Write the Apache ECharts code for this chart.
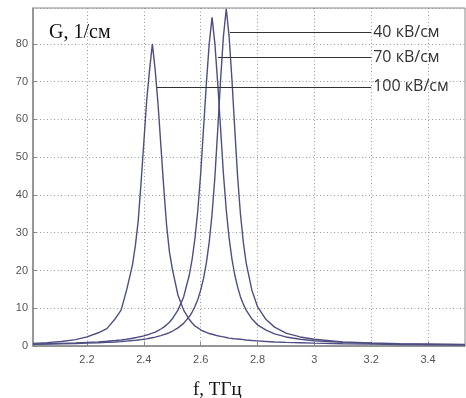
<!DOCTYPE html>
<html>
<head>
<meta charset="utf-8">
<script src="https://cdn.jsdelivr.net/npm/echarts@6/dist/echarts.min.js"></script>
<style>
  html, body { margin: 0; padding: 0; background: #fff; }
  #chart { width: 466px; height: 398px; }
</style>
</head>
<body>
<div id="chart"></div>
<script>
// частота, ТГц
const freq = [2.01, 2.06, 2.11, 2.16, 2.20, 2.24, 2.27, 2.30, 2.32, 2.34,
    2.36, 2.37, 2.38, 2.39, 2.40, 2.41, 2.42, 2.43, 2.44, 2.45,
    2.46, 2.47, 2.48, 2.49, 2.50, 2.52, 2.54, 2.56, 2.57, 2.58,
    2.59, 2.60, 2.61, 2.62, 2.63, 2.64, 2.65, 2.66, 2.67, 2.68,
    2.69, 2.70, 2.71, 2.72, 2.73, 2.74, 2.75, 2.76, 2.78, 2.80,
    2.83, 2.86, 2.90, 2.95, 3.00, 3.10, 3.20, 3.30, 3.40, 3.53];

// G, 1/см
const g100 = [0.7, 0.9, 1.2, 1.7, 2.4, 3.5, 4.6, 7.3, 9.5, 15,
    21.5, 26.5, 33, 43, 54, 65, 73, 80, 73, 64,
    53, 42, 32, 25, 20.5, 13.5, 9.5, 7, 6.1, 5.3,
    4.8, 4.3, 3.9, 3.6, 3.3, 3.1, 2.9, 2.7, 2.55, 2.4,
    2.25, 2.1, 2.0, 1.9, 1.85, 1.8, 1.7, 1.6, 1.45, 1.35,
    1.2, 1.05, 0.95, 0.85, 0.75, 0.6, 0.5, 0.4, 0.35, 0.3];

const g70 = [0.5, 0.6, 0.7, 0.8, 0.95, 1.1, 1.25, 1.45, 1.6, 1.8,
    2.05, 2.2, 2.35, 2.5, 2.7, 2.9, 3.15, 3.4, 3.7, 4.1,
    4.5, 5.0, 5.6, 6.3, 7.2, 9.5, 13.0, 18.8, 23.0, 28.6,
    36.0, 45.6, 57.6, 69.5, 80, 87, 80, 69.5, 57.6, 45.6,
    36.0, 28.6, 23.0, 18.8, 15.6, 13.0, 11.1, 9.5, 7.2, 5.6,
    4.2, 3.2, 2.4, 1.8, 1.4, 0.95, 0.7, 0.55, 0.45, 0.35];

const g40 = [0.45, 0.5, 0.55, 0.65, 0.75, 0.85, 0.95, 1.05, 1.15, 1.3,
    1.45, 1.5, 1.6, 1.7, 1.8, 1.9, 2.05, 2.2, 2.35, 2.55,
    2.75, 3.0, 3.25, 3.55, 3.9, 4.8, 6.0, 7.8, 9.0, 10.5,
    12.3, 14.8, 17.9, 22.0, 27.5, 34.9, 44.75, 57.3, 70.5, 82,
    89.3, 82, 70.5, 57.3, 44.75, 34.9, 27.5, 22.0, 14.8, 10.4,
    7.0, 5.0, 3.4, 2.4, 1.8, 1.1, 0.8, 0.6, 0.5, 0.4];

const seriesNames = ['40 кВ/см', '70 кВ/см', '100 кВ/см'];
const xTicks = [2.2, 2.4, 2.6, 2.8, 3.0, 3.2, 3.4];

// выноски: уровень линии и начало по частоте
const leaders = [
    { from: 2.703, level: 83.1 },
    { from: 2.661, level: 76.5 },
    { from: 2.446, level: 68.6 }
];
const leaderEnd = 3.2;

const lineColor = '#4e4e82';

function makeSeries(name, values, leader) {
    return {
        name: name,
        type: 'line',
        data: freq.map((f, i) => [f, values[i]]),
        showSymbol: false,
        smooth: false,
        lineStyle: { color: lineColor, width: 1.4 },
        itemStyle: { color: lineColor },
        markLine: {
            silent: true,
            symbol: 'none',
            animation: false,
            lineStyle: { color: '#333', width: 1, type: 'solid' },
            label: {
                show: true,
                position: 'end',
                distance: 2,
                formatter: name,
                color: '#333',
                fontSize: 16,
                fontFamily: 'Open Sans'
            },
            data: [[
                { coord: [leader.from, leader.level] },
                { coord: [leaderEnd, leader.level] }
            ]]
        }
    };
}

const chart = echarts.init(document.getElementById('chart'));

const option = {
    backgroundColor: '#fff',
    animation: false,
    title: [
        {
            text: 'G, 1/см',
            left: 44,
            top: 18,
            textStyle: {
                fontFamily: 'Liberation Serif',
                fontWeight: 'normal',
                fontSize: 20,
                color: '#111'
            }
        },
        {
            // подпись оси частот
            text: 'f, ТГц',
            left: 188,
            top: 376,
            textStyle: {
                fontFamily: 'Liberation Serif',
                fontWeight: 'normal',
                fontSize: 19,
                color: '#111'
            }
        }
    ],
    grid: {
        left: 33,
        right: 1,
        top: 8,
        bottom: 52,
        show: true,
        borderColor: '#888',
        borderWidth: 1
    },
    xAxis: {
        type: 'value',
        min: 2.01,
        max: 3.53,
        axisLine: { lineStyle: { color: '#888', width: 1.5 } },
        axisTick: { inside: true, length: 4, customValues: xTicks, lineStyle: { color: '#888' } },
        axisLabel: {
            customValues: xTicks,
            margin: 8,
            color: '#555',
            fontSize: 11,
            fontFamily: 'Liberation Sans'
        },
        splitLine: {
            show: true,
            lineStyle: { color: '#999', type: [1, 2.5], width: 1 }
        }
    },
    yAxis: {
        type: 'value',
        min: 0,
        max: 89.5,
        interval: 10,
        axisLine: { show: true, lineStyle: { color: '#888', width: 1.5 } },
        axisTick: { inside: true, length: 4, lineStyle: { color: '#888' } },
        axisLabel: {
            showMaxLabel: false,
            margin: 5,
            color: '#555',
            fontSize: 11,
            fontFamily: 'Liberation Sans'
        },
        splitLine: {
            show: true,
            lineStyle: { color: '#999', type: [1, 2.5], width: 1 }
        }
    },
    series: [
        makeSeries(seriesNames[0], g40, leaders[0]),
        makeSeries(seriesNames[1], g70, leaders[1]),
        makeSeries(seriesNames[2], g100, leaders[2])
    ]
};

chart.setOption(option);

window.addEventListener('resize', () => {
    chart.resize();
});
</script>
</body>
</html>
